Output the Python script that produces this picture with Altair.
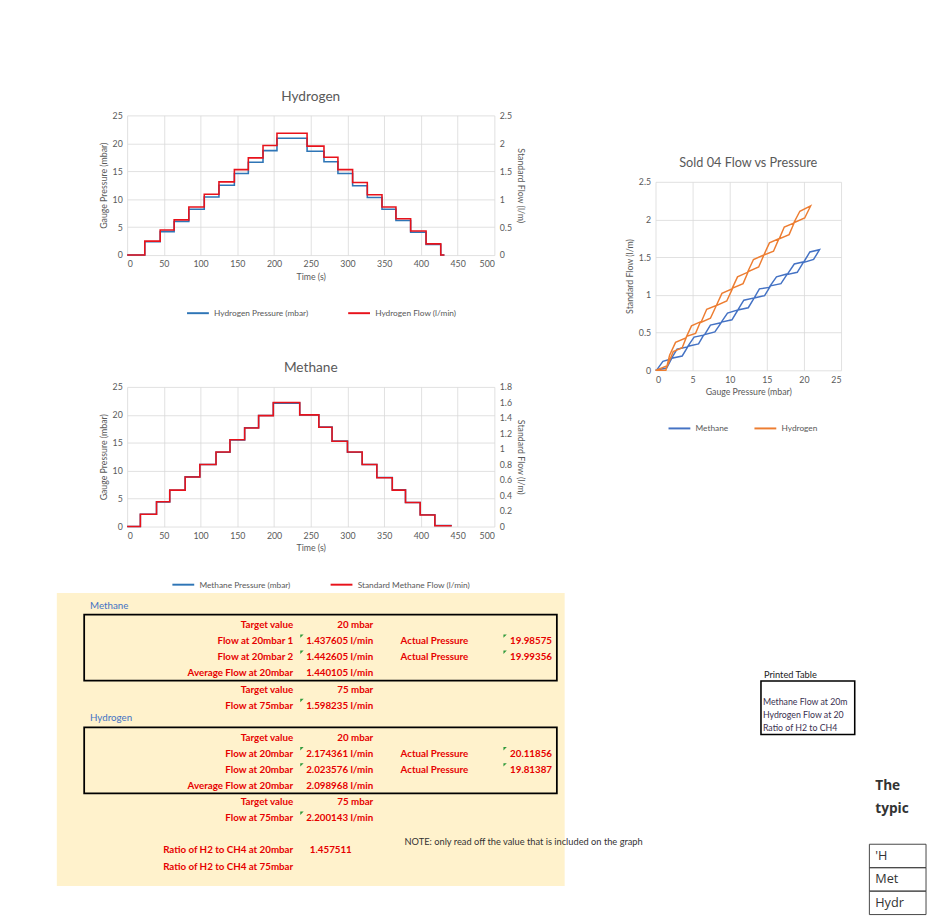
import altair as alt
import pandas as pd

FONT = "Lato"
TEXT_GREY = "#595959"
GRID = "#D9D9D9"
P_BLUE = "#2E75B6"
F_RED = "#E8121B"
SC_BLUE = "#4472C4"
SC_ORANGE = "#ED7D31"
TABLE_RED = "#E60000"

# ---------------- time series (step levels) ----------------
H2_TIME = [0, 24, 45, 64, 84, 105, 125, 146, 165, 185, 204, 245, 268, 287, 307, 327, 347, 366, 386, 407, 427, 432]
H2_PRESSURE = [0, 2.4, 4.2, 6.0, 8.2, 10.4, 12.5, 14.6, 16.6, 18.7, 20.9, 18.6, 16.7, 14.6, 12.4, 10.3, 8.2, 6.2, 4.1, 1.9, 0, 0]
H2_FLOW = [0, 0.25, 0.45, 0.63, 0.86, 1.09, 1.31, 1.53, 1.74, 1.96, 2.18, 1.95, 1.75, 1.53, 1.30, 1.08, 0.86, 0.65, 0.43, 0.20, 0, 0]

CH4_TIME = [0, 18, 40, 58, 79, 99, 121, 140, 160, 179, 199, 235, 261, 279, 300, 320, 340, 361, 379, 399, 419, 442]
CH4_PRESSURE = [0, 2.2, 4.4, 6.5, 8.9, 11.1, 13.3, 15.5, 17.7, 19.9, 22.1, 20.0, 17.8, 15.3, 13.3, 11.1, 8.8, 6.6, 4.3, 2.1, 0.2, 0.2]
CH4_FLOW = [0, 0.16, 0.32, 0.47, 0.64, 0.80, 0.96, 1.12, 1.27, 1.43, 1.60, 1.44, 1.28, 1.10, 0.96, 0.80, 0.63, 0.47, 0.31, 0.15, 0.01, 0.01]

TIME_TICKS = [0, 50, 100, 150, 200, 250, 300, 350, 400, 450, 500]
PRESSURE_TICKS = [0, 5, 10, 15, 20, 25]
H2_FLOW_TICKS = [0, 0.5, 1, 1.5, 2, 2.5]
CH4_FLOW_TICKS = [0, 0.2, 0.4, 0.6, 0.8, 1, 1.2, 1.4, 1.6, 1.8]

# ---------------- flow vs pressure paths (Sold 04) ----------------
CH4_SC_PRESSURE = [0, 1.5, 2.2, 3.6, 4.4, 5.8, 6.5, 8.0, 8.9, 10.3, 11.1, 12.5, 13.3, 14.7, 15.5, 16.9, 17.7, 19.1, 19.9, 21.3, 22.1,
                   20.8, 20.0, 18.7, 17.8, 16.3, 15.3, 14.0, 13.3, 11.9, 11.1, 9.7, 8.8, 7.4, 6.6, 5.2, 4.3, 2.9, 2.1, 1.0, 0.2]
CH4_SC_FLOW = [0, 0.03, 0.16, 0.19, 0.32, 0.35, 0.47, 0.51, 0.64, 0.67, 0.80, 0.83, 0.96, 0.99, 1.12, 1.15, 1.27, 1.30, 1.43, 1.47, 1.60,
               1.57, 1.44, 1.41, 1.28, 1.24, 1.10, 1.08, 0.96, 0.93, 0.80, 0.76, 0.63, 0.60, 0.47, 0.44, 0.31, 0.28, 0.15, 0.12, 0.01]
H2_SC_PRESSURE = [0, 1.6, 2.4, 3.6, 4.2, 5.4, 6.0, 7.4, 8.2, 9.6, 10.4, 11.8, 12.5, 13.9, 14.6, 15.9, 16.6, 18.0, 18.7, 20.1, 20.9,
                  19.45, 18.6, 17.35, 16.7, 15.35, 14.6, 13.2, 12.4, 11.05, 10.3, 8.95, 8.2, 6.9, 6.2, 4.85, 4.1, 2.7, 1.9, 1.4, 0]
H2_SC_FLOW = [0, 0.06, 0.25, 0.30, 0.45, 0.49, 0.63, 0.69, 0.86, 0.92, 1.09, 1.15, 1.31, 1.37, 1.53, 1.58, 1.74, 1.80, 1.96, 2.02, 2.18,
              2.11, 1.95, 1.90, 1.75, 1.69, 1.53, 1.47, 1.30, 1.24, 1.08, 1.02, 0.86, 0.81, 0.65, 0.59, 0.43, 0.37, 0.20, 0.0, 0.0]
SC_X_TICKS = [0, 5, 10, 15, 20, 25]
SC_Y_TICKS = [0, 0.5, 1, 1.5, 2, 2.5]

# ---------------- result table ----------------
METHANE_LABELS = ["Target value", "Flow at 20mbar 1", "Flow at 20mbar 2", "Average Flow at 20mbar", "Target value", "Flow at 75mbar"]
METHANE_VALUES = ["20 mbar", "1.437605 l/min", "1.442605 l/min", "1.440105 l/min", "75 mbar", "1.598235 l/min"]
HYDROGEN_LABELS = ["Target value", "Flow at 20mbar", "Flow at 20mbar", "Average Flow at 20mbar", "Target value", "Flow at 75mbar"]
HYDROGEN_VALUES = ["20 mbar", "2.174361 l/min", "2.023576 l/min", "2.098968 l/min", "75 mbar", "2.200143 l/min"]
FLAGGED = [False, True, True, False, False, True]
METHANE_ACTUAL = ["19.98575", "19.99356"]
HYDROGEN_ACTUAL = ["20.11856", "19.81387"]
RATIO_LABELS = ["Ratio of H2 to CH4 at 20mbar", "Ratio of H2 to CH4 at 75mbar"]
RATIO_VALUES = ["1.457511", ""]
NOTE = "NOTE: only read off the value that is included on the graph"
PRINTED_TITLE = "Printed Table"
PRINTED_ROWS = ["", "Methane Flow at 20mbar", "Hydrogen Flow at 20mbar", "Ratio of H2 to CH4"]
PAGE_WORDS = ["The", "typic"]
PAGE_TABLE = ["'H", "Met", "Hydr"]

# table row layout
METHANE_ROWS = [0, 1, 2, 3, 4, 5]
HYDROGEN_ROWS = [7, 8, 9, 10, 11, 12]
RATIO_ROWS = [14, 15]

LEGEND = dict(orient="none", direction="horizontal", title=None, symbolType="stroke", symbolStrokeWidth=2,
              symbolSize=500, labelFontSize=8.5, labelColor=TEXT_GREY, labelLimit=300)


def dual_time_chart(title, time, pressure, flow, p_label, f_label, flow_max, flow_ticks, lx):
    dp = pd.DataFrame({"time": time, "value": pressure, "series": p_label})
    dfl = pd.DataFrame({"time": time, "value": flow, "series": f_label})
    color = alt.Color(
        "series:N",
        scale=alt.Scale(domain=[p_label, f_label], range=[P_BLUE, F_RED]),
        legend=alt.Legend(columnPadding=36, legendX=lx, legendY=190, **LEGEND),
    )
    x = alt.X("time:Q", title="Time (s)", scale=alt.Scale(domain=[0, 500], nice=False),
              axis=alt.Axis(values=TIME_TICKS))
    lp = alt.Chart(dp).mark_line(interpolate="step-after", strokeWidth=1.6).encode(
        x=x,
        y=alt.Y("value:Q", title="Gauge Pressure (mbar)", scale=alt.Scale(domain=[0, 25], nice=False),
                axis=alt.Axis(values=PRESSURE_TICKS)),
        color=color,
    )
    lf = alt.Chart(dfl).mark_line(interpolate="step-after", strokeWidth=1.6).encode(
        x=x,
        y=alt.Y("value:Q", title="Standard Flow (l/m)", scale=alt.Scale(domain=[0, flow_max], nice=False),
                axis=alt.Axis(orient="right", values=flow_ticks, grid=False, format="~f")),
        color=color,
    )
    return alt.layer(lp, lf).resolve_scale(y="independent").properties(
        width=376, height=143,
        title=alt.TitleParams(title, fontSize=14, color=TEXT_GREY, fontWeight="normal", font=FONT, offset=8),
    )


h2_chart = dual_time_chart("Hydrogen", H2_TIME, H2_PRESSURE, H2_FLOW,
                           "Hydrogen Pressure (mbar)", "Hydrogen Flow (l/min)", 2.5, H2_FLOW_TICKS, 60)
ch4_chart = dual_time_chart("Methane", CH4_TIME, CH4_PRESSURE, CH4_FLOW,
                            "Methane Pressure (mbar)", "Standard Methane Flow (l/min)", 1.8, CH4_FLOW_TICKS, 45)

# ---- scatter ----
sc_df = pd.concat([
    pd.DataFrame({"p": CH4_SC_PRESSURE, "f": CH4_SC_FLOW, "gas": "Methane", "i": range(len(CH4_SC_FLOW))}),
    pd.DataFrame({"p": H2_SC_PRESSURE, "f": H2_SC_FLOW, "gas": "Hydrogen", "i": range(len(H2_SC_FLOW))}),
])
scatter = alt.Chart(sc_df).mark_line(strokeWidth=1.5).encode(
    x=alt.X("p:Q", title="Gauge Pressure (mbar)", scale=alt.Scale(domain=[0, 25], nice=False),
            axis=alt.Axis(values=SC_X_TICKS)),
    y=alt.Y("f:Q", title="Standard Flow (l/m)", scale=alt.Scale(domain=[0, 2.5], nice=False),
            axis=alt.Axis(values=SC_Y_TICKS, format="~f")),
    color=alt.Color("gas:N", scale=alt.Scale(domain=["Methane", "Hydrogen"], range=[SC_BLUE, SC_ORANGE]),
                    legend=alt.Legend(columnPadding=22, legendX=12, legendY=240, **LEGEND)),
    order="i:Q",
).properties(
    width=190, height=193,
    title=alt.TitleParams("Sold 04 Flow vs Pressure", fontSize=13, color=TEXT_GREY, fontWeight="normal", font=FONT, offset=8),
)

# ---- result table ----
TABLE_W, TABLE_H = 520, 300
row_scale = alt.Scale(domain=[-2.0, 16.2], reverse=True)

main_rows = pd.DataFrame({
    "row": METHANE_ROWS + HYDROGEN_ROWS,
    "label": METHANE_LABELS + HYDROGEN_LABELS,
    "value": METHANE_VALUES + HYDROGEN_VALUES,
    "flag": FLAGGED + FLAGGED,
})
actual = pd.DataFrame({
    "row": METHANE_ROWS[1:3] + HYDROGEN_ROWS[1:3],
    "label": ["Actual Pressure"] * 4,
    "value": METHANE_ACTUAL + HYDROGEN_ACTUAL,
})
ratio = pd.DataFrame({"row": RATIO_ROWS, "label": RATIO_LABELS, "value": RATIO_VALUES})
boxes = pd.DataFrame({
    "top": [METHANE_ROWS[0] - 0.65, HYDROGEN_ROWS[0] - 0.65],
    "bottom": [METHANE_ROWS[3] + 0.45, HYDROGEN_ROWS[3] + 0.45],
})
sections = pd.DataFrame({"row": [METHANE_ROWS[0] - 1.2, HYDROGEN_ROWS[0] - 1.2], "name": ["Methane", "Hydrogen"]})
note = pd.DataFrame({"row": [13.5], "text": [NOTE]})


def Y(f, scale=row_scale):
    return alt.Y(f, scale=scale, axis=None)


txt = dict(font=FONT, fontWeight="bold", fontSize=10, color=TABLE_RED, baseline="middle")
FLAG_SHAPE = "M-1,-1L1,-1L-1,1Z"

t_boxes = alt.Chart(boxes).mark_rect(fillOpacity=0, stroke="black", strokeWidth=1.8).encode(
    x=alt.value(28), x2=alt.value(512), y=Y("top:Q"), y2="bottom:Q")
t_labels = alt.Chart(main_rows).mark_text(align="right", **txt).encode(
    x=alt.value(242), y=Y("row:Q"), text="label:N")
t_values = alt.Chart(main_rows).mark_text(align="right", **txt).encode(
    x=alt.value(324), y=Y("row:Q"), text="value:N")
t_flags = alt.Chart(main_rows).transform_filter("datum.flag").transform_calculate(
    top="datum.row - 0.32").mark_point(shape=FLAG_SHAPE, filled=True, size=12, color="#2F9A3B", opacity=1).encode(
    x=alt.value(251), y=Y("top:Q"))
a_labels = alt.Chart(actual).mark_text(align="left", **txt).encode(
    x=alt.value(352), y=Y("row:Q"), text="label:N")
a_values = alt.Chart(actual).mark_text(align="right", **txt).encode(
    x=alt.value(507), y=Y("row:Q"), text="value:N")
a_flags = alt.Chart(actual).transform_calculate(top="datum.row - 0.32").mark_point(
    shape=FLAG_SHAPE, filled=True, size=12, color="#2F9A3B", opacity=1).encode(
    x=alt.value(459), y=Y("top:Q"))
r_labels = alt.Chart(ratio).mark_text(align="right", **txt).encode(
    x=alt.value(242), y=Y("row:Q"), text="label:N")
r_values = alt.Chart(ratio).mark_text(align="right", **txt).encode(
    x=alt.value(302), y=Y("row:Q"), text="value:N")
s_labels = alt.Chart(sections).mark_text(align="left", baseline="middle", font=FONT, fontSize=10,
                                         color="#4472C4").encode(x=alt.value(34), y=Y("row:Q"), text="name:N")
n_label = alt.Chart(note).mark_text(align="left", baseline="middle", font=FONT, fontSize=9.5,
                                   color="#333333").encode(x=alt.value(356), y=Y("row:Q"), text="text:N")

table = alt.layer(t_boxes, t_labels, t_values, t_flags, a_labels, a_values, a_flags, r_labels, r_values,
                  s_labels, n_label).properties(
    width=TABLE_W, height=TABLE_H, view=alt.ViewBackground(fill="#FFF2CC", stroke=None))

# ---- printed table ----
printed = pd.DataFrame({"row": list(range(len(PRINTED_ROWS))), "text": PRINTED_ROWS})
p_title = pd.DataFrame({"row": [-1.05], "text": [PRINTED_TITLE]})
p_box = pd.DataFrame({"top": [-0.6], "bottom": [len(PRINTED_ROWS) - 0.5]})
prow_scale = alt.Scale(domain=[-7.32, 4.62], reverse=True)
pt = alt.layer(
    alt.Chart(p_box).mark_rect(fillOpacity=0, stroke="black", strokeWidth=1.6).encode(
        x=alt.value(1), x2=alt.value(97), y=Y("top:Q", prow_scale), y2="bottom:Q"),
    alt.Chart(p_title).mark_text(align="left", baseline="middle", font=FONT, fontSize=9.5, color="#222222").encode(
        x=alt.value(4), y=Y("row:Q", prow_scale), text="text:N"),
    alt.Chart(printed).mark_text(align="left", baseline="middle", font=FONT, fontSize=9, color="#3A3050",
                                 limit=92, ellipsis=" ").encode(
        x=alt.value(3), y=Y("row:Q", prow_scale), text="text:N"),
).properties(width=98, height=160)

# ---- fragment of the facing page ----
page_scale = alt.Scale(domain=[-8.22, 4.28], reverse=True)
page_words = pd.DataFrame({"row": [0, 1], "text": PAGE_WORDS})
page_cells = pd.DataFrame({"row": [3, 4, 5], "text": PAGE_TABLE, "top": [2.5, 3.5, 4.5], "bottom": [3.5, 4.5, 5.5]})
frag = alt.layer(
    alt.Chart(page_words).mark_text(align="left", baseline="middle", font="Open Sans", fontSize=14,
                                    fontWeight="bold", color="#333333").encode(
        x=alt.value(8), y=Y("row:Q", page_scale), text="text:N"),
    alt.Chart(page_cells).mark_rect(fillOpacity=0, stroke="#444444", strokeWidth=1).encode(
        x=alt.value(2), x2=alt.value(60), y=Y("top:Q", page_scale), y2="bottom:Q"),
    alt.Chart(page_cells).mark_text(align="left", baseline="middle", font="Open Sans", fontSize=13,
                                    color="#333333").encode(
        x=alt.value(8), y=Y("row:Q", page_scale), text="text:N"),
).properties(width=50, height=300)


def spacer(w, h):
    return alt.Chart(pd.DataFrame({"v": [0]})).mark_point(opacity=0).encode(
        x=alt.value(0), y=alt.value(0)).properties(width=w, height=h)


left_col = alt.vconcat(h2_chart, ch4_chart, spacing=45).resolve_scale(color="independent")
left_top = alt.hconcat(spacer(4, 4), left_col, spacing=39).resolve_scale(color="independent")
right_col = alt.vconcat(spacer(4, 33), scatter, spacing=10).resolve_scale(color="independent")
top = alt.hconcat(left_top, right_col, spacing=103).resolve_scale(color="independent")
bottom_right = alt.hconcat(pt, frag, spacing=12).resolve_scale(color="independent")
bottom = alt.hconcat(table, bottom_right, spacing=119).resolve_scale(color="independent")

chart = alt.vconcat(top, bottom, spacing=4).resolve_scale(color="independent").properties(
    padding={"left": 47, "top": 73, "right": 0, "bottom": 0}
).configure(font=FONT, background="white").configure_view(stroke=None).configure_axis(
    labelFont=FONT, titleFont=FONT, labelColor=TEXT_GREY, titleColor=TEXT_GREY, labelFontSize=9,
    titleFontSize=9, titleFontWeight="normal", gridColor=GRID, gridWidth=0.8, domain=False, ticks=False,
    labelPadding=5,
).configure_legend(labelFont=FONT)

chart.save("out.html", embed_options={"renderer": "svg", "actions": False})
